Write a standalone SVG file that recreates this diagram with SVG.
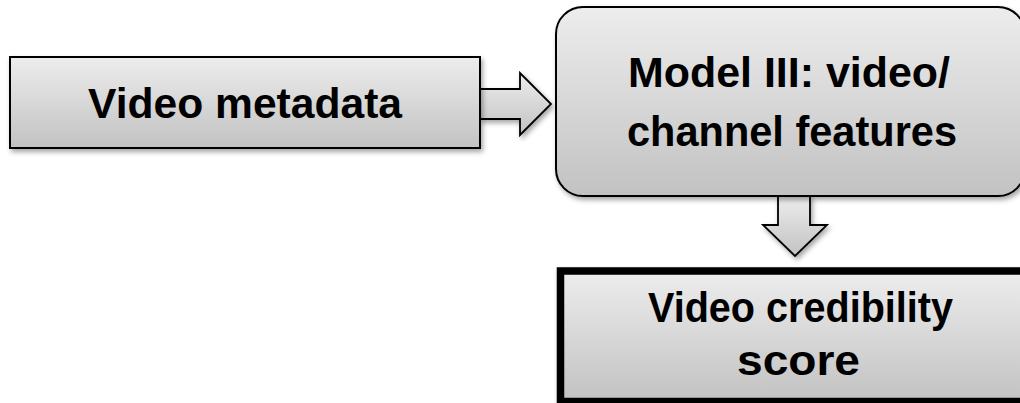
<svg xmlns="http://www.w3.org/2000/svg" width="1020" height="403" viewBox="0 0 1020 403">
  <style>
    .lbl { font-family: "Liberation Sans", Arial, sans-serif; font-weight: bold; font-size: 42px; fill: #000; text-anchor: middle; }
    .box { fill: url(#g); stroke: #000; stroke-width: 2; filter: url(#sh); }
    .arr { fill: url(#g); stroke: #000; stroke-width: 1.8; stroke-linejoin: miter; filter: url(#sh); }
  </style>
  <defs>
    <linearGradient id="g" x1="0" y1="0" x2="0" y2="1">
      <stop offset="0" stop-color="#ededed"/>
      <stop offset="1" stop-color="#c2c2c2"/>
    </linearGradient>
    <filter id="sh" x="-10%" y="-10%" width="125%" height="130%">
      <feDropShadow dx="2" dy="3" stdDeviation="2.5" flood-color="#000" flood-opacity="0.35"/>
    </filter>
  </defs>

  <g id="connectors">
    <path class="arr" d="M480,89 L520,89 L520,73 L551,104 L520,135 L520,119 L480,119 Z"/>
    <path class="arr" d="M778,196 L778,225 L763,225 L795,256 L827,225 L810,225 L810,196 Z"/>
  </g>

  <g id="video-metadata">
    <rect class="box" x="10" y="57" width="470" height="91"/>
    <text class="lbl" x="245" y="118" textLength="314" lengthAdjust="spacingAndGlyphs">Video metadata</text>
  </g>

  <g id="model-iii">
    <rect class="box" x="556" y="7" width="469" height="189" rx="27" ry="27"/>
    <text class="lbl" x="789" y="87" textLength="322" lengthAdjust="spacingAndGlyphs">Model III: video/</text>
    <text class="lbl" x="792" y="146" textLength="330" lengthAdjust="spacingAndGlyphs">channel features</text>
  </g>

  <g id="credibility-score">
    <rect class="box" x="560.5" y="271" width="480" height="130.5" style="stroke-width:7.5"/>
    <text class="lbl" x="800.5" y="322" textLength="305" lengthAdjust="spacingAndGlyphs">Video credibility</text>
    <text class="lbl" x="798.5" y="375" textLength="123" lengthAdjust="spacingAndGlyphs">score</text>
  </g>
</svg>
